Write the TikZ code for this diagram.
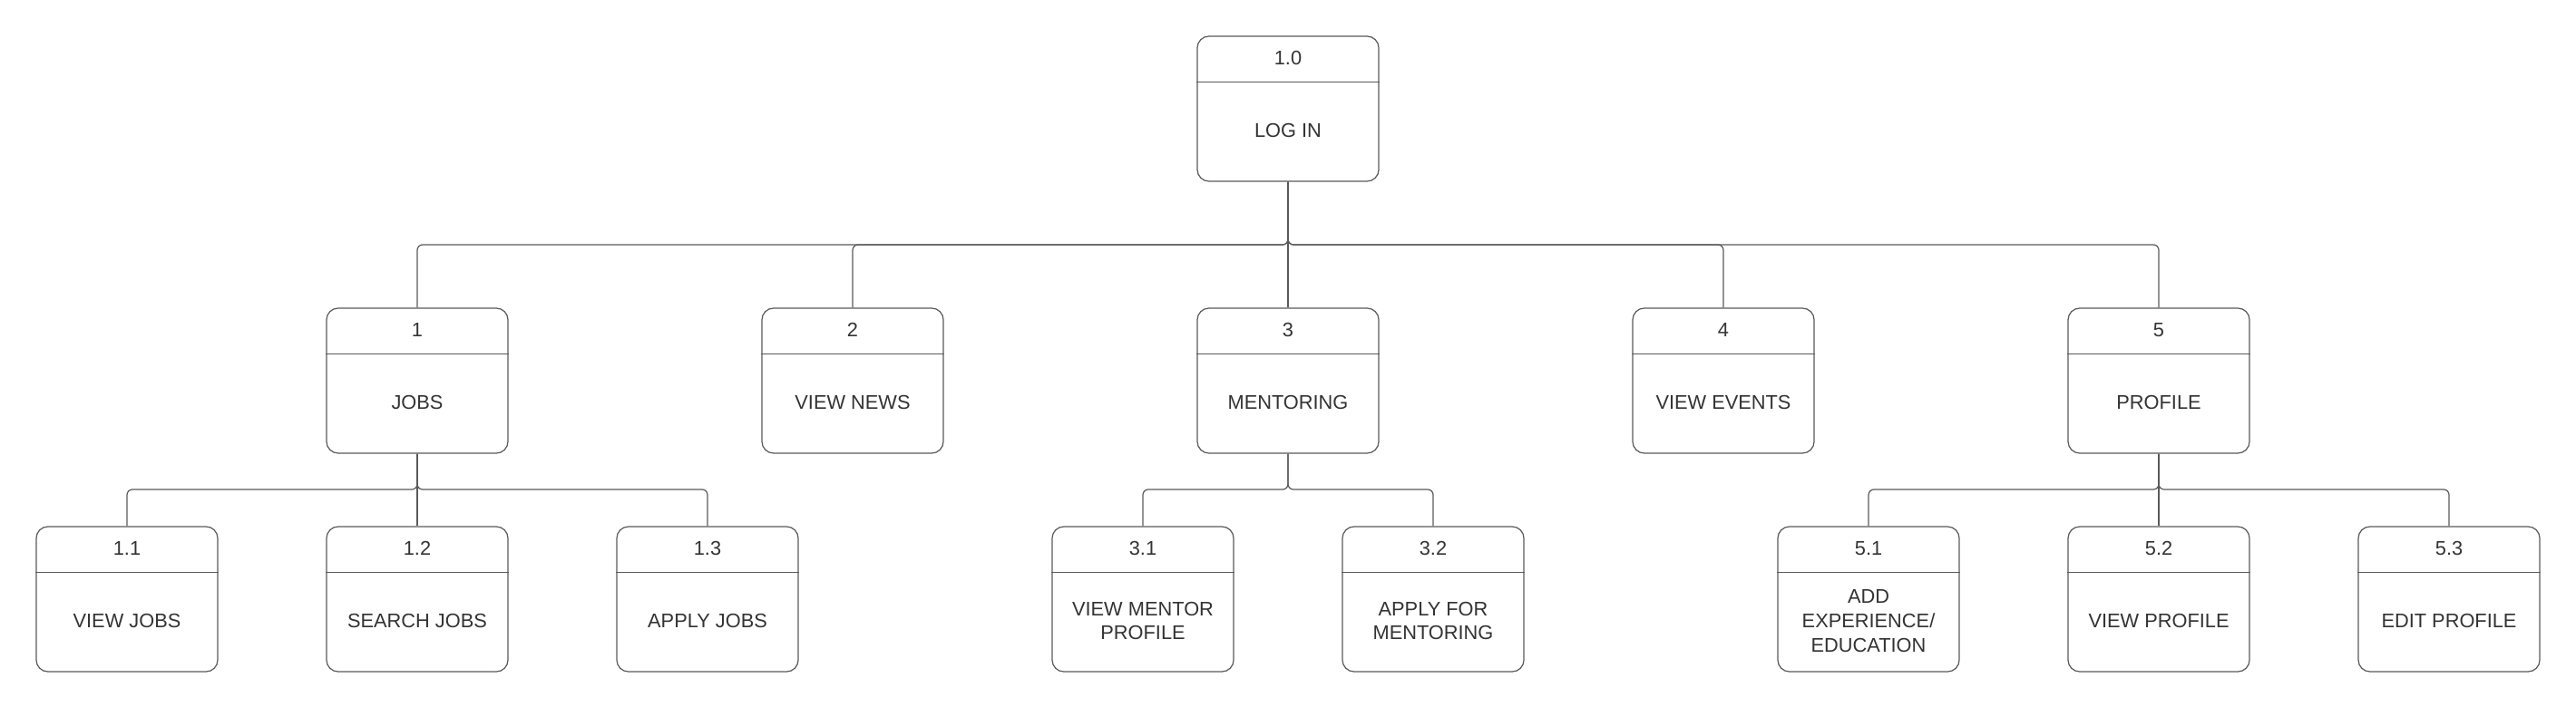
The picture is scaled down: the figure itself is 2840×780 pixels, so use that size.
\documentclass[tikz,border=0pt]{standalone}
\usepackage{fontspec}
\setmainfont{Liberation Sans}
\usepackage{tikz}

\definecolor{linegray}{HTML}{5A5A5A}
\definecolor{textgray}{HTML}{333333}

\tikzset{
  procbox/.style={draw=linegray, line width=0.35pt, rounded corners=0.13cm,
    minimum width=2cm, minimum height=1.6cm, inner sep=0pt},
  numtext/.style={text=textgray, font=\fontsize{6.2}{7.6}\selectfont, inner sep=0pt},
  bodytext/.style={text=textgray, font=\fontsize{6.2}{7.6}\selectfont, align=center, inner sep=0pt},
  conn/.style={draw=linegray, line width=0.35pt, rounded corners=0.06cm}
}

% one process box: name, x, y, number, text
\newcommand\procnode[5]{%
  \node[procbox] (#1) at (#2,#3) {};
  \draw[linegray, line width=0.35pt] ([yshift=-0.51cm]#1.north west) -- ([yshift=-0.51cm]#1.north east);
  \node[numtext] (#1num) at ([yshift=-0.25cm]#1.north) {#4};
  \node[bodytext] (#1txt) at ([yshift=-0.24cm]#1.center) {#5};
}

\begin{document}
\begin{tikzpicture}[x=0.01cm, y=-0.01cm]
  \useasboundingbox (0,0) rectangle (2840,780);

  % Top level
  \procnode{login}{1420}{120}{1.0}{LOG IN}

  % Main functions
  \procnode{jobs}{460}{420}{1}{JOBS}
  \procnode{news}{940}{420}{2}{VIEW NEWS}
  \procnode{mentor}{1420}{420}{3}{MENTORING}
  \procnode{events}{1900}{420}{4}{VIEW EVENTS}
  \procnode{profile}{2380}{420}{5}{PROFILE}

  % Sub functions
  \procnode{viewjobs}{140}{661}{1.1}{VIEW JOBS}
  \procnode{searchjobs}{460}{661}{1.2}{SEARCH JOBS}
  \procnode{applyjobs}{780}{661}{1.3}{APPLY JOBS}
  \procnode{viewmentor}{1260}{661}{3.1}{VIEW MENTOR\\PROFILE}
  \procnode{applymentor}{1580}{661}{3.2}{APPLY FOR\\MENTORING}
  \procnode{addexp}{2060}{661}{5.1}{ADD\\EXPERIENCE/\\EDUCATION}
  \procnode{viewprofile}{2380}{661}{5.2}{VIEW PROFILE}
  \procnode{editprofile}{2700}{661}{5.3}{EDIT PROFILE}

  % Bus levels
  \coordinate (busa) at (0,270);
  \coordinate (busb) at (0,540);

  % Connectors
  \foreach \child in {jobs, news, mentor, events, profile}
    \draw[conn] (login.south) -- (login.south |- busa) -| (\child.north);
  \foreach \child in {viewjobs, searchjobs, applyjobs}
    \draw[conn] (jobs.south) -- (jobs.south |- busb) -| (\child.north);
  \foreach \child in {viewmentor, applymentor}
    \draw[conn] (mentor.south) -- (mentor.south |- busb) -| (\child.north);
  \foreach \child in {addexp, viewprofile, editprofile}
    \draw[conn] (profile.south) -- (profile.south |- busb) -| (\child.north);
\end{tikzpicture}
\end{document}
